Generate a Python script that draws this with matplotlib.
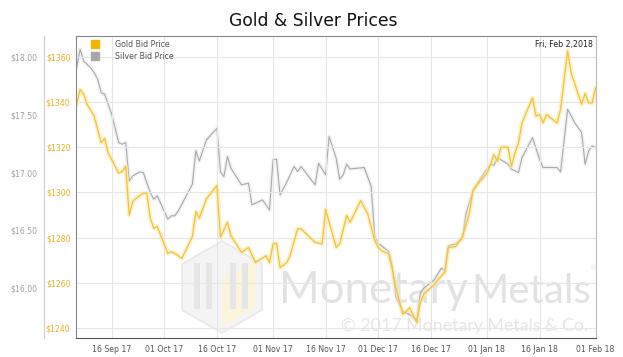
import matplotlib
matplotlib.use("Agg")
import matplotlib.pyplot as plt
import matplotlib.dates as mdates
from matplotlib.lines import Line2D
from matplotlib.patches import Polygon, Rectangle
import pandas as pd

# --- data ---
gold_dates = [
    "2017-09-06", "2017-09-07", "2017-09-08", "2017-09-09", "2017-09-11", "2017-09-13",
    "2017-09-14", "2017-09-15", "2017-09-18", "2017-09-19", "2017-09-20", "2017-09-21",
    "2017-09-22", "2017-09-23", "2017-09-25", "2017-09-26", "2017-09-27", "2017-09-28",
    "2017-09-29", "2017-10-02", "2017-10-03", "2017-10-04", "2017-10-06", "2017-10-09",
    "2017-10-10", "2017-10-11", "2017-10-13", "2017-10-16", "2017-10-17", "2017-10-19",
    "2017-10-20", "2017-10-23", "2017-10-25", "2017-10-27", "2017-10-30", "2017-10-31",
    "2017-11-01", "2017-11-02", "2017-11-03", "2017-11-05", "2017-11-06", "2017-11-08",
    "2017-11-09", "2017-11-13", "2017-11-15", "2017-11-16", "2017-11-19", "2017-11-20",
    "2017-11-22", "2017-11-23", "2017-11-26", "2017-11-28", "2017-11-30", "2017-12-01",
    "2017-12-02", "2017-12-04", "2017-12-05", "2017-12-06", "2017-12-08", "2017-12-09",
    "2017-12-10", "2017-12-11", "2017-12-12", "2017-12-13", "2017-12-14", "2017-12-17",
    "2017-12-19", "2017-12-20", "2017-12-21", "2017-12-23", "2017-12-25", "2017-12-27",
    "2017-12-28", "2017-12-30", "2018-01-01", "2018-01-02", "2018-01-03", "2018-01-04",
    "2018-01-05", "2018-01-06", "2018-01-07", "2018-01-08", "2018-01-09", "2018-01-10",
    "2018-01-11", "2018-01-14", "2018-01-15", "2018-01-16", "2018-01-17", "2018-01-18",
    "2018-01-21", "2018-01-22", "2018-01-24", "2018-01-25", "2018-01-28", "2018-01-29",
    "2018-01-30", "2018-01-31", "2018-02-01",
]
gold_prices = [
    1339, 1345.6, 1343.4, 1339, 1333.8, 1322,
    1324, 1317.5, 1308.6, 1309.3, 1311.6, 1290,
    1296, 1297.5, 1299.7, 1299.7, 1288.6, 1284.1,
    1284.9, 1273, 1273.8, 1273, 1270.8, 1280.4,
    1291.6, 1288.6, 1297.2, 1303.1, 1280.1, 1286.8,
    1280.9, 1273.5, 1275.7, 1269, 1272, 1269,
    1277.2, 1277.5, 1266.8, 1269, 1272.8, 1283.9,
    1283.9, 1277.9, 1277.2, 1292.5, 1275.7, 1277.2,
    1289.8, 1286.8, 1296.4, 1290.5, 1278.7, 1275.7,
    1274.2, 1272.8, 1266.1, 1258, 1246.1, 1247.3,
    1249.1, 1245.4, 1242.4, 1251.3, 1255, 1259.3,
    1263.1, 1264.6, 1275.7, 1276, 1280.4, 1290.8,
    1300.9, 1304.9, 1308.6, 1312.3, 1316.8, 1313.8,
    1320.1, 1320.1, 1320.1, 1311.6, 1317.5, 1322,
    1330.8, 1341.9, 1333.8, 1334.5, 1330.8, 1334.5,
    1330.8, 1336.8, 1362.7, 1353, 1339, 1343.9,
    1339.7, 1339.7, 1346.4,
]

silver_dates = [
    "2017-09-06", "2017-09-07", "2017-09-08", "2017-09-10", "2017-09-11", "2017-09-12",
    "2017-09-13", "2017-09-14", "2017-09-16", "2017-09-18", "2017-09-19", "2017-09-20",
    "2017-09-21", "2017-09-22", "2017-09-24", "2017-09-25", "2017-09-27", "2017-09-28",
    "2017-09-29", "2017-10-02", "2017-10-03", "2017-10-04", "2017-10-05", "2017-10-09",
    "2017-10-10", "2017-10-11", "2017-10-13", "2017-10-16", "2017-10-17", "2017-10-18",
    "2017-10-19", "2017-10-20", "2017-10-23", "2017-10-25", "2017-10-26", "2017-10-29",
    "2017-10-31", "2017-11-01", "2017-11-02", "2017-11-03", "2017-11-05", "2017-11-07",
    "2017-11-08", "2017-11-09", "2017-11-13", "2017-11-14", "2017-11-16", "2017-11-17",
    "2017-11-19", "2017-11-20", "2017-11-21", "2017-11-22", "2017-11-23", "2017-11-25",
    "2017-11-27", "2017-11-29", "2017-11-30", "2017-12-01", "2017-12-04", "2017-12-05",
    "2017-12-06", "2017-12-08", "2017-12-10", "2017-12-12", "2017-12-13", "2017-12-14",
    "2017-12-17", "2017-12-19", "2017-12-20", "2017-12-21", "2017-12-23", "2017-12-25",
    "2017-12-26", "2017-12-28", "2017-12-30", "2018-01-02", "2018-01-03", "2018-01-04",
    "2018-01-07", "2018-01-08", "2018-01-10", "2018-01-11", "2018-01-14", "2018-01-16",
    "2018-01-17", "2018-01-21", "2018-01-22", "2018-01-24", "2018-01-26", "2018-01-28",
    "2018-01-29", "2018-01-30", "2018-01-31", "2018-02-01",
]
silver_prices = [
    17.907, 18.067, 17.965, 17.907, 17.864, 17.807,
    17.691, 17.677, 17.504, 17.259, 17.245, 17.259,
    16.927, 16.971, 17.005, 17.0, 16.827, 16.769,
    16.798, 16.596, 16.625, 16.625, 16.668, 16.899,
    17.187, 17.1, 17.282, 17.383, 17.008, 16.964,
    17.138, 17.037, 16.893, 16.907, 16.72, 16.763,
    16.676, 17.109, 17.115, 16.806, 16.921, 17.052,
    17.008, 17.052, 16.893, 17.08, 16.979, 17.311,
    17.124, 16.942, 16.979, 17.072, 17.031, 17.037,
    17.043, 16.878, 16.446, 16.388, 16.316, 16.186,
    15.927, 15.797, 15.768, 15.725, 15.956, 15.999,
    16.071, 16.172, 16.149, 16.365, 16.38, 16.423,
    16.639, 16.841, 16.942, 17.072, 17.063, 17.129,
    17.072, 17.029, 17.0, 17.129, 17.302, 17.115,
    17.043, 17.043, 17.005, 17.548, 17.432, 17.346,
    17.072, 17.187, 17.23, 17.216,
]

gold_ticks = [1240, 1260, 1280, 1300, 1320, 1340, 1360]
silver_ticks = [16.0, 16.5, 17.0, 17.5, 18.0]
date_ticks = ["2017-09-16", "2017-10-01", "2017-10-16", "2017-11-01", "2017-11-16",
              "2017-12-01", "2017-12-16", "2018-01-01", "2018-01-16", "2018-02-01"]

assert len(gold_dates) == len(gold_prices)
assert len(silver_dates) == len(silver_prices)

W, H = 623, 357
GOLD = "#f2c23a"
GOLD_GLOW = "#fbe9a6"
GOLD_TXT = "#e9b21a"
SILVER = "#a9a9a9"
SILVER_GLOW = "#ececec"
SILVER_TXT = "#a0a0a0"


def px(x, y):
    # pixel position in the picture -> figure fraction
    return x / W, 1 - y / H


fig = plt.figure(figsize=(W / 100, H / 100), dpi=100)
fig.patch.set_facecolor("white")
ax = fig.add_axes([76 / W, 1 - 338 / H, (596 - 76) / W, (338 - 36) / H])
ax.set_zorder(2)
ax.patch.set_alpha(0)
ax2 = ax.twinx()
ax2.set_zorder(1)

# --- watermark (drawn behind the lines) ---
hx, hy, r = 222, 287, 46
hexa = [px(hx, hy - r), px(hx + 40, hy - r / 2), px(hx + 40, hy + r / 2),
        px(hx, hy + r), px(hx - 40, hy + r / 2), px(hx - 40, hy - r / 2)]
fig.add_artist(Polygon(hexa, closed=True, transform=fig.transFigure,
                       facecolor="#f4f4f4", edgecolor="#e8e8e8", lw=1.2, zorder=0))
right_face = [px(hx, hy - 8), px(hx + 34, hy - 26), px(hx + 34, hy + 20), px(hx, hy + 40)]
fig.add_artist(Polygon(right_face, closed=True, transform=fig.transFigure,
                       facecolor="#fbf4dc", edgecolor="none", zorder=0))
for bx in [194, 206, 230, 242]:
    x0, y0 = px(bx, hy + 22)
    fig.add_artist(Rectangle((x0, y0), 6 / W, 46 / H, transform=fig.transFigure,
                             facecolor="#e6e6e6", edgecolor="none", zorder=0))
fig.text(*px(279, 303), "Monetary", fontsize=31.5, color="#e2e2e2",
         family="Lato", ha="left", va="baseline", zorder=0)
fig.text(*px(471, 303), "Metals", fontsize=29, color="#e2e2e2",
         family="Lato", ha="left", va="baseline", zorder=0)
fig.text(*px(590, 270), "®", fontsize=5, color="#e2e2e2", ha="left", va="baseline")
fig.text(*px(588, 331), "© 2017 Monetary Metals & Co.", fontsize=12.8, color="#e6e6e6",
         family="Lato", ha="right", va="baseline", zorder=0)

# --- series ---
g_x = pd.to_datetime(gold_dates)
s_x = pd.to_datetime(silver_dates)
ax2.plot(s_x, silver_prices, color=SILVER_GLOW, lw=3.0, alpha=0.6, solid_joinstyle="round")
ax2.plot(s_x, silver_prices, color=SILVER, lw=0.8)
ax.plot(g_x, gold_prices, color=GOLD_GLOW, lw=3.2, alpha=0.6, solid_joinstyle="round")
ax.plot(g_x, gold_prices, color=GOLD, lw=0.9)

# --- axes ---
x0 = pd.Timestamp("2017-09-16") + pd.Timedelta(days=-10.18)
x1 = pd.Timestamp("2017-09-16") + pd.Timedelta(days=138.1)
ax.set_xlim(x0, x1)
ax.set_ylim(1235.57, 1369.3)
ax2.set_ylim(15.567, 18.182)

ax.set_yticks(gold_ticks)
ax.set_yticklabels([f"${v}" for v in gold_ticks])
ax2.set_yticks(silver_ticks)
ax2.set_yticklabels([f"${v:.2f}" for v in silver_ticks])
ax.set_xticks(pd.to_datetime(date_ticks))
ax.xaxis.set_major_formatter(mdates.DateFormatter("%d %b %y"))

ax.tick_params(axis="y", length=0, pad=4, labelsize=5.6, labelcolor=GOLD_TXT)
ax.tick_params(axis="x", length=0, pad=5, labelsize=5.6, labelcolor="#555555")
ax2.yaxis.set_ticks_position("left")
ax2.yaxis.set_label_position("left")
ax2.spines["left"].set_position(("outward", 23))
ax2.tick_params(axis="y", length=0, pad=5, labelsize=5.6, labelcolor=SILVER_TXT)

ax.grid(True, color="#e6e6e6", lw=0.8)
ax2.grid(False)
for sp in ["top", "right", "bottom", "left"]:
    ax2.spines[sp].set_visible(False)
ax2.spines["left"].set_visible(True)
ax2.spines["left"].set_color("#cfcfcf")
ax2.spines["left"].set_linewidth(0.8)
ax.spines["left"].set_color("#888888")
ax.spines["bottom"].set_color("#555555")
ax.spines["top"].set_color("#888888")
ax.spines["right"].set_color("#bbbbbb")
for sp in ax.spines.values():
    sp.set_linewidth(0.8)

# --- legend, labels ---
handles = [Line2D([], [], ls="none", marker="s", ms=6, color="#f2b600"),
           Line2D([], [], ls="none", marker="s", ms=6, color="#a8a8a8")]
ax.legend(handles, ["Gold Bid Price", "Silver Bid Price"], loc="upper left",
          bbox_to_anchor=(0.01, 1.005), frameon=False, fontsize=5.7,
          labelcolor="#555555", handletextpad=1.6, labelspacing=0.35, borderaxespad=0.3)
fig.text(*px(593, 47), "Fri, Feb 2,2018", fontsize=5.7, color="#222222", ha="right")
fig.text(*px(313, 26), "Gold & Silver Prices", fontsize=12.3, color="#111111", ha="center")

fig.savefig("out.png", dpi=100)
